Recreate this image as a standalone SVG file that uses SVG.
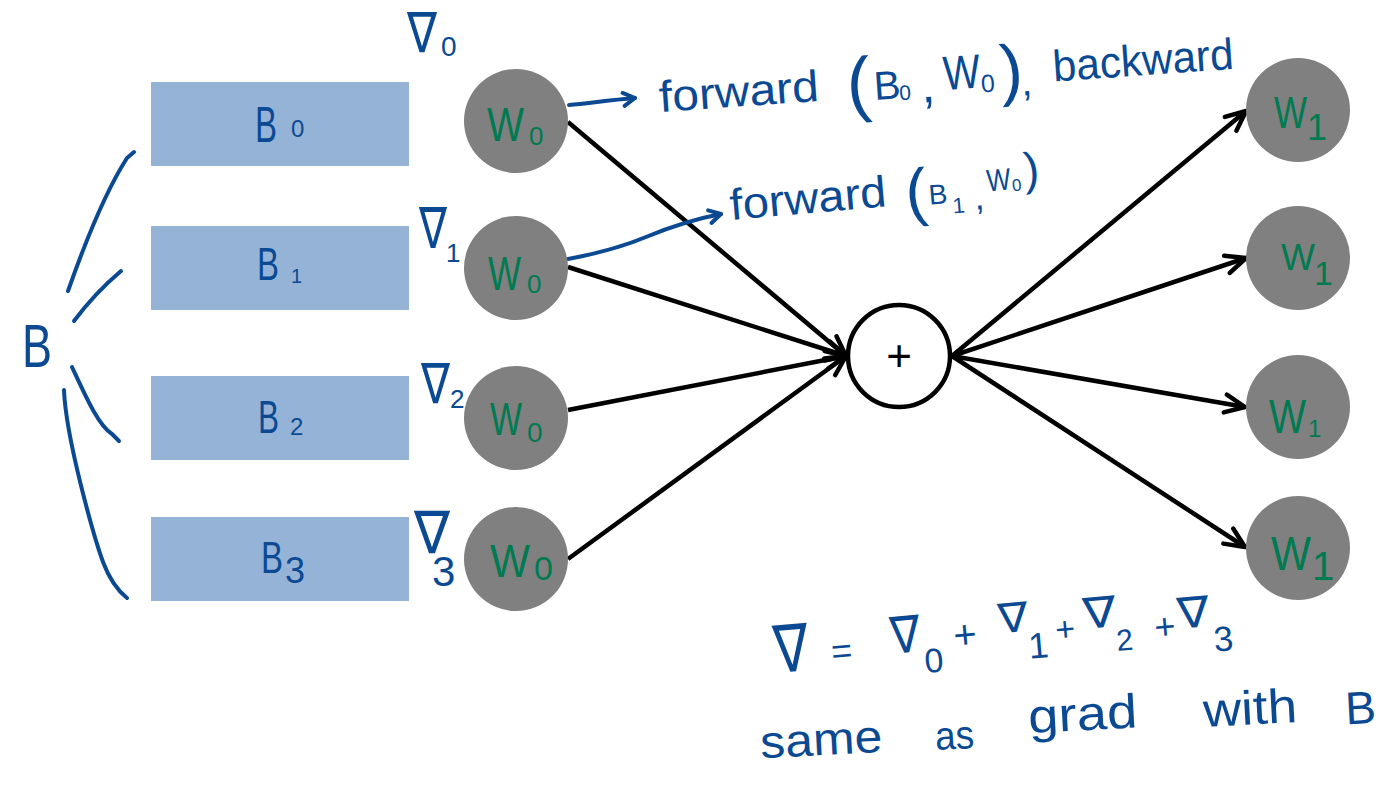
<svg xmlns="http://www.w3.org/2000/svg" width="1384" height="786" viewBox="0 0 1384 786">
<style>
.hw{font-family:"Liberation Sans",Arial,sans-serif;fill:#0B4A93}
.nab{font-family:"DejaVu Sans",sans-serif}
.gw{font-family:"Liberation Sans",Arial,sans-serif;fill:#007A50}
.batch{fill:#95B3D7}
.wnode{fill:#808080}
.edge{stroke:#000;stroke-width:4.5;fill:none}
.ink{stroke:#0B4A93;stroke-width:4;fill:none;stroke-linecap:round;stroke-linejoin:round}
</style>
<defs>
<marker id="ah" markerUnits="userSpaceOnUse" viewBox="-24 -12 28 24" refX="0" refY="0" markerWidth="28" markerHeight="24" orient="auto">
<path d="M-20,-9 L0,0 L-20,9" fill="none" stroke="#000" stroke-width="4.5" stroke-linejoin="round" stroke-linecap="round"/>
</marker>
<marker id="bh" markerUnits="userSpaceOnUse" viewBox="-16 -10 20 20" refX="0" refY="0" markerWidth="20" markerHeight="20" orient="auto">
<path d="M-12,-6 L0,0 L-11,7" fill="none" stroke="#0B4A93" stroke-width="4" stroke-linejoin="round" stroke-linecap="round"/>
</marker>
</defs>
<rect width="1384" height="786" fill="#fff"/>

<g id="brace">
<path class="ink" d="M68,291 Q100,200 127,158 L134,152"/>
<path class="ink" d="M74,321 Q95,293 121,271"/>
<path class="ink" d="M72,367 C85,395 98,425 112,434 L119,441"/>
<path class="ink" d="M64,390 C66,440 95,540 103,562 Q112,586 127,598"/>
<text class="hw" x="22" y="367" font-size="62" textLength="30" lengthAdjust="spacingAndGlyphs">B</text>
</g>

<g id="b0"><rect class="batch" x="151" y="82" width="258" height="84"/>
<text class="hw"><tspan x="255" y="142" font-size="50" textLength="22" lengthAdjust="spacingAndGlyphs">B</tspan><tspan x="291" y="137" font-size="24">0</tspan></text></g>
<g id="b1"><rect class="batch" x="151" y="226" width="258" height="84"/>
<text class="hw"><tspan x="257" y="280" font-size="46" textLength="22" lengthAdjust="spacingAndGlyphs">B</tspan><tspan x="291" y="283" font-size="20">1</tspan></text></g>
<g id="b2"><rect class="batch" x="151" y="376" width="258" height="84"/>
<text class="hw"><tspan x="258" y="433" font-size="46" textLength="21" lengthAdjust="spacingAndGlyphs">B</tspan><tspan x="290" y="435" font-size="24">2</tspan></text></g>
<g id="b3"><rect class="batch" x="151" y="517" width="258" height="84"/>
<text class="hw"><tspan x="261" y="573" font-size="44" textLength="22" lengthAdjust="spacingAndGlyphs">B</tspan><tspan x="285" y="583" font-size="36">3</tspan></text></g>

<g id="connectors">
<path class="edge" d="M568,122 L846,356" marker-end="url(#ah)"/>
<path class="edge" d="M568,267 L846,356" marker-end="url(#ah)"/>
<path class="edge" d="M568,410 L846,356" marker-end="url(#ah)"/>
<path class="edge" d="M568,559 L846,356" marker-end="url(#ah)"/>
<path class="edge" d="M952,356 L1246,111" marker-end="url(#ah)"/>
<path class="edge" d="M952,356 L1246,258" marker-end="url(#ah)"/>
<path class="edge" d="M952,356 L1245,407" marker-end="url(#ah)"/>
<path class="edge" d="M952,356 L1245,547" marker-end="url(#ah)"/>
<path class="ink" d="M569,105 C590,103 610,100 635,98" marker-end="url(#bh)"/>
<path class="ink" d="M568,259 C600,253 622,247 646,237 S700,218 721,214" marker-end="url(#bh)"/>
</g>

<g id="w0_0"><circle class="wnode" cx="516" cy="121" r="52"/>
<text class="gw"><tspan x="487" y="141" font-size="48" textLength="37" lengthAdjust="spacingAndGlyphs">W</tspan><tspan x="529" y="145" font-size="26">0</tspan></text></g>
<g id="w0_1"><circle class="wnode" cx="516" cy="268" r="52"/>
<text class="gw"><tspan x="488" y="290" font-size="48" textLength="33" lengthAdjust="spacingAndGlyphs">W</tspan><tspan x="527" y="293" font-size="26">0</tspan></text></g>
<g id="w0_2"><circle class="wnode" cx="516" cy="418" r="52"/>
<text class="gw"><tspan x="490" y="435" font-size="46" textLength="32" lengthAdjust="spacingAndGlyphs">W</tspan><tspan x="527" y="442" font-size="28">0</tspan></text></g>
<g id="w0_3"><circle class="wnode" cx="516" cy="559" r="52"/>
<text class="gw"><tspan x="490" y="577" font-size="46" textLength="40" lengthAdjust="spacingAndGlyphs">W</tspan><tspan x="534" y="580" font-size="34">0</tspan></text></g>

<g id="sum"><circle cx="899" cy="356" r="51" fill="#fff" stroke="#000" stroke-width="4.5"/>
<text x="899" y="371" font-size="44" text-anchor="middle" font-family="'Liberation Sans',Arial,sans-serif" fill="#000">+</text></g>

<g id="w1_0"><circle class="wnode" cx="1298" cy="110" r="52"/>
<text class="gw"><tspan x="1274" y="128" font-size="44" textLength="33" lengthAdjust="spacingAndGlyphs">W</tspan><tspan x="1307" y="140" font-size="36">1</tspan></text></g>
<g id="w1_1"><circle class="wnode" cx="1298" cy="258" r="52"/>
<text class="gw"><tspan x="1281" y="270" font-size="36" textLength="34" lengthAdjust="spacingAndGlyphs">W</tspan><tspan x="1314" y="285" font-size="34">1</tspan></text></g>
<g id="w1_2"><circle class="wnode" cx="1298" cy="407" r="52"/>
<text class="gw"><tspan x="1269" y="433" font-size="48" textLength="37" lengthAdjust="spacingAndGlyphs">W</tspan><tspan x="1308" y="437" font-size="24">1</tspan></text></g>
<g id="w1_3"><circle class="wnode" cx="1298" cy="548" r="52"/>
<text class="gw"><tspan x="1271" y="570" font-size="48" textLength="40" lengthAdjust="spacingAndGlyphs">W</tspan><tspan x="1312" y="580" font-size="40">1</tspan></text></g>

<g id="grads">
<text class="hw"><tspan class="nab" x="407" y="52" font-size="56" textLength="30" lengthAdjust="spacingAndGlyphs">∇</tspan><tspan x="441" y="56" font-size="28">0</tspan></text>
<text class="hw"><tspan class="nab" x="419" y="248" font-size="57" textLength="28" lengthAdjust="spacingAndGlyphs">∇</tspan><tspan x="446" y="262" font-size="26">1</tspan></text>
<text class="hw"><tspan class="nab" x="421" y="403" font-size="56" textLength="29" lengthAdjust="spacingAndGlyphs">∇</tspan><tspan x="450" y="408" font-size="26">2</tspan></text>
<text class="hw"><tspan class="nab" x="414" y="553" font-size="59" textLength="36" lengthAdjust="spacingAndGlyphs">∇</tspan><tspan x="432" y="586" font-size="42">3</tspan></text>
</g>

<g id="notes">
<text class="hw" transform="translate(660,112) rotate(-4)"><tspan x="0" y="0" font-size="44" textLength="160" lengthAdjust="spacingAndGlyphs">forward</tspan><tspan x="188" y="10" font-size="72">(</tspan><tspan x="215" y="3" font-size="40">B</tspan><tspan x="240" y="5" font-size="21">0</tspan><tspan x="262" y="9" font-size="50">,</tspan><tspan x="285" y="-2" font-size="48" textLength="37" lengthAdjust="spacingAndGlyphs">W</tspan><tspan x="322" y="3" font-size="25">0</tspan><tspan x="342" y="5" font-size="68">)</tspan><tspan x="362" y="9" font-size="40">,</tspan><tspan x="395" y="-3" font-size="44" textLength="181" lengthAdjust="spacingAndGlyphs">backward</tspan></text>

<text class="hw" transform="translate(731,220) rotate(-5)"><tspan x="0" y="0" font-size="44" textLength="157" lengthAdjust="spacingAndGlyphs">forward</tspan><tspan x="176" y="10" font-size="64">(</tspan><tspan x="199" y="2" font-size="28">B</tspan><tspan x="222" y="13" font-size="22">1</tspan><tspan x="244" y="11" font-size="36">,</tspan><tspan x="258" y="-6" font-size="31" textLength="24" lengthAdjust="spacingAndGlyphs">W</tspan><tspan x="283" y="-4" font-size="17">0</tspan><tspan x="296" y="-9" font-size="46">)</tspan></text>

<text class="hw" transform="translate(775,663) rotate(-5)"><tspan class="nab" x="0" y="10" font-size="66" textLength="35" lengthAdjust="spacingAndGlyphs">∇</tspan><tspan x="57" y="6" font-size="36">=</tspan><tspan class="nab" x="117" y="1" font-size="51" textLength="30" lengthAdjust="spacingAndGlyphs">∇</tspan><tspan x="149" y="23" font-size="34">0</tspan><tspan x="180" y="2" font-size="40">+</tspan><tspan class="nab" x="226" y="-10" font-size="41" textLength="30" lengthAdjust="spacingAndGlyphs">∇</tspan><tspan x="254" y="18" font-size="36">1</tspan><tspan x="282" y="3" font-size="34">+</tspan><tspan class="nab" x="311" y="-7" font-size="43" textLength="33" lengthAdjust="spacingAndGlyphs">∇</tspan><tspan x="342" y="18" font-size="30">2</tspan><tspan x="381" y="10" font-size="36">+</tspan><tspan class="nab" x="405" y="1" font-size="43" textLength="32" lengthAdjust="spacingAndGlyphs">∇</tspan><tspan x="439" y="27" font-size="35">3</tspan></text>

<text class="hw" transform="rotate(-3 765 758)"><tspan x="761" y="758" font-size="46" textLength="122" lengthAdjust="spacingAndGlyphs">same</tspan><tspan x="936" y="759" font-size="40" textLength="39" lengthAdjust="spacingAndGlyphs">as</tspan><tspan x="1030" y="747" font-size="48" textLength="109" lengthAdjust="spacingAndGlyphs">grad</tspan><tspan x="1205" y="750" font-size="48" textLength="94" lengthAdjust="spacingAndGlyphs">with</tspan><tspan x="1347" y="755" font-size="46">B</tspan></text>
</g>
</svg>
